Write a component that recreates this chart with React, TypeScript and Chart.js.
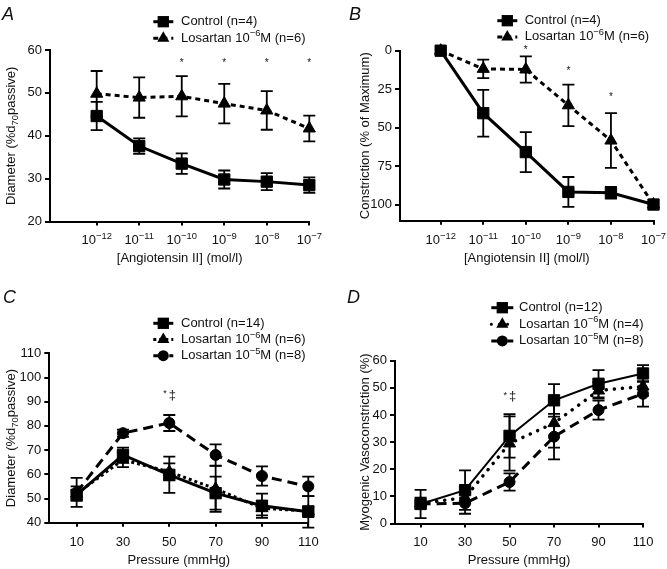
import React, { useEffect, useRef } from 'react';
import { Chart, registerables } from 'chart.js';

Chart.register(...registerables);

const FONT = "'Liberation Sans', Arial, Helvetica, sans-serif";
const INK = '#111';

// ---------------- data ----------------
// "^{...}" marks a superscript, "_{...}" a subscript
const angTickLabels = ['10^{−12}', '10^{−11}', '10^{−10}', '10^{−9}', '10^{−8}', '10^{−7}'];
const angIndex = [0, 1, 2, 3, 4, 5];
const pressures = [10, 30, 50, 70, 90, 110];

const aYTicks = [20, 30, 40, 50, 60];
const bYTicks = [0, 25, 50, 75, 100];
const cYTicks = [40, 50, 60, 70, 80, 90, 100, 110];
const dYTicks = [0, 10, 20, 30, 40, 50, 60];

const aControl = [44.6, 37.6, 33.5, 29.8, 29.3, 28.5];
const aControlErr = [3.3, 1.8, 2.4, 2.1, 2.0, 1.8];
const aLos6 = [49.8, 48.9, 49.2, 47.5, 45.9, 41.7];
const aLos6Err = [5.3, 4.7, 4.7, 4.6, 4.5, 3.0];
const aStarX = [2, 3, 4, 5];
const aStarY = [57.4, 57.4, 57.4, 57.4];

const bControl = [0, 40.6, 65.9, 91.8, 92.4, 100];
const bControlErr = [0, 15.2, 13.0, 9.7, 3.8, 0];
const bLos6 = [0, 11.8, 12.2, 35.5, 58.4, 100];
const bLos6Err = [0, 6.0, 8.5, 13.5, 17.8, 0];
const bStarX = [2, 3, 4];
const bStarY = [-1.5, 12, 29];

const cControl = [51.5, 68.0, 59.8, 52.2, 47.0, 44.5];
const cControlErr = [2.0, 3.0, 7.5, 6.8, 5.0, 6.5];
const cLos6 = [52.0, 66.0, 61.0, 54.0, 46.0, 44.8];
const cLos6Err = [3.0, 3.0, 3.5, 9.5, 3.0, 2.0];
const cLos5 = [52.5, 77.0, 81.2, 68.0, 59.3, 55.0];
const cLos5Err = [6.0, 1.5, 3.3, 4.4, 4.0, 4.0];
const cMarkX = [50];
const cMarkY = [92.8];

const dControl = [7.2, 12.3, 32.3, 45.4, 51.5, 55.3];
const dControlErr = [5.2, 7.3, 8.0, 6.0, 5.0, 3.1];
const dLos6 = [7.5, 9.5, 29.5, 37.0, 49.0, 50.5];
const dLos6Err = [2.0, 2.0, 10.0, 9.0, 3.0, 3.5];
const dLos5 = [7.2, 7.5, 15.3, 32.0, 41.8, 47.8];
const dLos5Err = [1.0, 3.9, 3.2, 8.4, 3.5, 4.7];
const dMarkX = [50];
const dMarkY = [46.9];

const abLegend = ['Control (n=4)', 'Losartan 10^{−6}M (n=6)'];
const cLegend = ['Control (n=14)', 'Losartan 10^{−6}M (n=6)', 'Losartan 10^{−5}M (n=8)'];
const dLegend = ['Control (n=12)', 'Losartan 10^{−6}M (n=4)', 'Losartan 10^{−5}M (n=8)'];

const angTitle = '[Angiotensin II] (mol/l)';
const pressTitle = 'Pressure (mmHg)';
const diamTitle = 'Diameter (%d_{70}passive)';
const constrTitle = 'Constriction (% of Maximum)';
const myoTitle = 'Myogenic Vasoconstriction (%)';

// ---------------- styles ----------------
type Kind = 'control' | 'los6' | 'los5';
function seriesStyle(panel: string, kind: Kind) {
  if (kind === 'control')
    return { dash: [] as number[], lw: panel === 'D' ? 2 : 3, ps: 'rect', r: 8, cap: 'butt' as CanvasLineCap };
  if (kind === 'los6') {
    if (panel === 'A' || panel === 'B') return { dash: [5, 4], lw: 3, ps: 'triangle', r: 7, cap: 'butt' as CanvasLineCap };
    if (panel === 'C') return { dash: [3, 3], lw: 3, ps: 'triangle', r: 7, cap: 'butt' as CanvasLineCap };
    return { dash: [0.1, 8], lw: 3.5, ps: 'triangle', r: 7, cap: 'round' as CanvasLineCap };
  }
  return { dash: [10, 6], lw: 3, ps: 'circle', r: 5.5, cap: 'butt' as CanvasLineCap };
}

type Series = { kind: Kind; label: string; values: number[]; errors: number[] };
type Panel = {
  id: string; left: number; top: number; w: number; h: number;
  xs: number[]; xTicks: number[]; xLabels: string[] | null; xMin: number; xMax: number;
  yMin: number; yMax: number; yTicks: number[]; reverse: boolean;
  area: { top: number; bottom: number; left: number; right: number };
  yTitle: string; yTitleX: number; xTitle: string; xTitleY: number; xLabelY: number;
  series: Series[]; marksX: number[]; marksY: number[]; markText: string;
  legend: { x: number; tx: number; y: number; dy: number; half: number };
  letter: { x: number; y: number };
};

const panels: Panel[] = [
  {
    id: 'A', left: 0, top: 0, w: 334, h: 285,
    xs: angIndex, xTicks: angIndex, xLabels: angTickLabels, xMin: -1.098, xMax: 5,
    yMin: 20, yMax: 60, yTicks: aYTicks, reverse: false,
    area: { top: 50, bottom: 221.5, left: 50, right: 309.3 },
    yTitle: diamTitle, yTitleX: 11.7, xTitle: angTitle, xTitleY: 258, xLabelY: 240.5,
    series: [
      { kind: 'control', label: abLegend[0], values: aControl, errors: aControlErr },
      { kind: 'los6', label: abLegend[1], values: aLos6, errors: aLos6Err },
    ],
    marksX: aStarX, marksY: aStarY, markText: '*',
    legend: { x: 163.3, tx: 181, y: 21.7, dy: 16.6, half: 10 },
    letter: { x: 2, y: 20 },
  },
  {
    id: 'B', left: 334, top: 0, w: 333, h: 285,
    xs: angIndex, xTicks: angIndex, xLabels: angTickLabels, xMin: -0.956, xMax: 5,
    yMin: 0, yMax: 110.5, yTicks: bYTicks, reverse: true,
    area: { top: 50.7, bottom: 220.7, left: 66, right: 319.5 },
    yTitle: constrTitle, yTitleX: 31.7, xTitle: angTitle, xTitleY: 258, xLabelY: 240.5,
    series: [
      { kind: 'control', label: abLegend[0], values: bControl, errors: bControlErr },
      { kind: 'los6', label: abLegend[1], values: bLos6, errors: bLos6Err },
    ],
    marksX: bStarX, marksY: bStarY, markText: '*',
    legend: { x: 173.3, tx: 190.7, y: 20.7, dy: 16.2, half: 10 },
    letter: { x: 15, y: 20 },
  },
  {
    id: 'C', left: 0, top: 285, w: 334, h: 284,
    xs: pressures, xTicks: pressures, xLabels: null, xMin: -1.8, xMax: 110,
    yMin: 40, yMax: 110, yTicks: cYTicks, reverse: false,
    area: { top: 68.3, bottom: 237.7, left: 49.3, right: 308.3 },
    yTitle: diamTitle, yTitleX: 11.7, xTitle: pressTitle, xTitleY: 275.5, xLabelY: 256.7,
    series: [
      { kind: 'control', label: cLegend[0], values: cControl, errors: cControlErr },
      { kind: 'los6', label: cLegend[1], values: cLos6, errors: cLos6Err },
      { kind: 'los5', label: cLegend[2], values: cLos5, errors: cLos5Err },
    ],
    marksX: cMarkX, marksY: cMarkY, markText: '*‡',
    legend: { x: 163.3, tx: 181, y: 38.3, dy: 16.2, half: 10 },
    letter: { x: 3, y: 18 },
  },
  {
    id: 'D', left: 334, top: 285, w: 333, h: 284,
    xs: pressures, xTicks: pressures, xLabels: null, xMin: -1.5, xMax: 110,
    yMin: 0, yMax: 60, yTicks: dYTicks, reverse: false,
    area: { top: 75.7, bottom: 238.5, left: 61, right: 309 },
    yTitle: myoTitle, yTitleX: 31.7, xTitle: pressTitle, xTitleY: 275.5, xLabelY: 256.7,
    series: [
      { kind: 'control', label: dLegend[0], values: dControl, errors: dControlErr },
      { kind: 'los6', label: dLegend[1], values: dLos6, errors: dLos6Err },
      { kind: 'los5', label: dLegend[2], values: dLos5, errors: dLos5Err },
    ],
    marksX: dMarkX, marksY: dMarkY, markText: '*‡',
    legend: { x: 168.3, tx: 185, y: 22.7, dy: 16.6, half: 11 },
    letter: { x: 13, y: 18.3 },
  },
];

// ---------------- rich text (super/subscripts) ----------------
type Run = { t: string; k: 'n' | 'sup' | 'sub' };
function parseRich(s: string): Run[] {
  const runs: Run[] = [];
  const re = /\^\{([^}]*)\}|_\{([^}]*)\}/g;
  let last = 0;
  let m: RegExpExecArray | null;
  while ((m = re.exec(s))) {
    if (m.index > last) runs.push({ t: s.slice(last, m.index), k: 'n' });
    if (m[1] !== undefined) runs.push({ t: m[1], k: 'sup' });
    else runs.push({ t: m[2], k: 'sub' });
    last = re.lastIndex;
  }
  if (last < s.length) runs.push({ t: s.slice(last), k: 'n' });
  return runs;
}
function drawRich(ctx: CanvasRenderingContext2D, s: string, x: number, y: number, align: 'left' | 'center', size: number) {
  const runs = parseRich(s);
  const small = Math.round(size * 0.72 * 10) / 10;
  const fontFor = (k: string) => `${k === 'n' ? size : small}px ${FONT}`;
  const widths = runs.map((r) => {
    ctx.font = fontFor(r.k);
    return ctx.measureText(r.t).width;
  });
  const total = widths.reduce((a, b) => a + b, 0);
  let cx = align === 'center' ? x - total / 2 : x;
  ctx.textAlign = 'left';
  ctx.textBaseline = 'middle';
  runs.forEach((r, i) => {
    ctx.font = fontFor(r.k);
    const dy = r.k === 'sup' ? -size * 0.34 : r.k === 'sub' ? size * 0.3 : 0;
    ctx.fillText(r.t, cx, y + dy);
    cx += widths[i];
  });
}

function drawMarker(ctx: CanvasRenderingContext2D, ps: string, r: number, x: number, y: number) {
  ctx.beginPath();
  if (ps === 'rect') {
    const s = Math.SQRT1_2 * r;
    ctx.rect(x - s, y - s, 2 * s, 2 * s);
  } else if (ps === 'triangle') {
    ctx.moveTo(x, y - r);
    ctx.lineTo(x + Math.sin((2 * Math.PI) / 3) * r, y - Math.cos((2 * Math.PI) / 3) * r);
    ctx.lineTo(x + Math.sin((4 * Math.PI) / 3) * r, y - Math.cos((4 * Math.PI) / 3) * r);
    ctx.closePath();
  } else {
    ctx.arc(x, y, r, 0, Math.PI * 2);
  }
  ctx.fill();
}

function extrasPlugin(p: Panel) {
  return {
    id: 'extras' + p.id,
    beforeDatasetsDraw(chart: any) {
      const ctx: CanvasRenderingContext2D = chart.ctx;
      const ys = chart.scales.y;
      ctx.save();
      ctx.strokeStyle = '#000';
      ctx.lineWidth = 1.8;
      ctx.setLineDash([]);
      p.series.forEach((s, i) => {
        const meta = chart.getDatasetMeta(i);
        s.errors.forEach((e, j) => {
          if (!e) return;
          const x = meta.data[j].x;
          const y1 = ys.getPixelForValue(s.values[j] + e);
          const y2 = ys.getPixelForValue(s.values[j] - e);
          ctx.beginPath();
          ctx.moveTo(x, y1);
          ctx.lineTo(x, y2);
          ctx.moveTo(x - 6, y1);
          ctx.lineTo(x + 6, y1);
          ctx.moveTo(x - 6, y2);
          ctx.lineTo(x + 6, y2);
          ctx.stroke();
        });
      });
      ctx.restore();
    },
    afterDraw(chart: any) {
      const ctx: CanvasRenderingContext2D = chart.ctx;
      const xs = chart.scales.x;
      const ys = chart.scales.y;
      const area = chart.chartArea;
      ctx.save();
      ctx.fillStyle = INK;
      // x tick labels with superscripts
      if (p.xLabels) {
        p.xTicks.forEach((v, i) => {
          drawRich(ctx, p.xLabels![i], xs.getPixelForValue(v), p.xLabelY, 'center', 13);
        });
      }
      // y axis title (rotated)
      ctx.save();
      ctx.translate(p.yTitleX, (area.top + area.bottom) / 2);
      ctx.rotate(-Math.PI / 2);
      drawRich(ctx, p.yTitle, 0, 0, 'center', 13);
      ctx.restore();
      // significance marks
      ctx.textAlign = 'center';
      ctx.textBaseline = 'middle';
      p.marksX.forEach((mx, k) => {
        const x = xs.getPixelForValue(mx);
        const y = ys.getPixelForValue(p.marksY[k]);
        if (p.markText === '*') {
          ctx.font = `10px ${FONT}`;
          ctx.fillText('*', x, y + 2);
        } else {
          ctx.font = `13px ${FONT}`;
          ctx.fillText('‡', x + 3, y);
          ctx.font = `9px ${FONT}`;
          ctx.fillText('*', x - 4.3, y - 1);
        }
      });
      // legend
      const L = p.legend;
      p.series.forEach((s, k) => {
        const st = seriesStyle(p.id, s.kind);
        const y = L.y + k * L.dy;
        ctx.save();
        ctx.strokeStyle = '#000';
        ctx.lineWidth = 3;
        ctx.lineCap = st.cap;
        ctx.setLineDash(st.dash);
        ctx.beginPath();
        ctx.moveTo(L.x - L.half, y);
        ctx.lineTo(L.x + L.half, y);
        ctx.stroke();
        ctx.restore();
        ctx.fillStyle = '#000';
        drawMarker(ctx, st.ps, st.r, L.x, y);
        ctx.fillStyle = INK;
        drawRich(ctx, s.label, L.tx, y, 'left', 13);
      });
      // panel letter
      ctx.textAlign = 'left';
      ctx.textBaseline = 'alphabetic';
      ctx.font = `italic 18px ${FONT}`;
      ctx.fillText(p.id, p.letter.x, p.letter.y);
      ctx.restore();
    },
  };
}

function makeConfig(p: Panel): any {
  const lh = 13 * 1.2;
  const datasets = p.series.map((s) => {
    const st = seriesStyle(p.id, s.kind);
    return {
      label: s.label,
      data: s.values.map((v, i) => ({ x: p.xs[i], y: v })),
      borderColor: '#000',
      backgroundColor: '#000',
      borderWidth: st.lw,
      borderDash: st.dash,
      borderCapStyle: st.cap,
      pointStyle: st.ps,
      pointRadius: st.r,
      pointHoverRadius: st.r,
      pointBackgroundColor: '#000',
      pointBorderColor: '#000',
      pointBorderWidth: 1,
      tension: 0,
      fill: false,
      clip: false,
    };
  });
  const tickFont = { size: 13, family: FONT };
  return {
    type: 'line',
    data: { datasets },
    plugins: [extrasPlugin(p)],
    options: {
      responsive: false,
      animation: false,
      events: [],
      layout: { padding: { left: 0, top: p.area.top, right: p.w - p.area.right, bottom: 0 } },
      plugins: { legend: { display: false }, tooltip: { enabled: false } },
      scales: {
        x: {
          type: 'linear',
          min: p.xMin,
          max: p.xMax,
          afterBuildTicks: (s: any) => {
            s.ticks = p.xTicks.map((v) => ({ value: v }));
          },
          afterFit: (s: any) => {
            s.height = p.h - p.area.bottom;
          },
          ticks: {
            callback: (v: number) => (p.xLabels ? '' : String(v)),
            font: tickFont,
            color: INK,
            padding: 7.5,
            autoSkip: false,
            maxRotation: 0,
          },
          grid: { display: true, drawOnChartArea: false, drawTicks: true, tickLength: 4, color: '#000', lineWidth: 2 },
          border: { display: true, color: '#000', width: 2 },
          title: {
            display: true,
            text: p.xTitle,
            font: tickFont,
            color: INK,
            padding: { top: 0, bottom: p.h - p.xTitleY - lh / 2 },
          },
        },
        y: {
          type: 'linear',
          min: p.yMin,
          max: p.yMax,
          reverse: p.reverse,
          afterBuildTicks: (s: any) => {
            s.ticks = p.yTicks.map((v) => ({ value: v }));
          },
          afterFit: (s: any) => {
            s.width = p.area.left;
          },
          ticks: { font: tickFont, color: INK, padding: 3, autoSkip: false },
          grid: { display: true, drawOnChartArea: false, drawTicks: true, tickLength: 5, color: '#000', lineWidth: 2 },
          border: { display: true, color: '#000', width: 2 },
          title: { display: false },
        },
      },
    },
  };
}

function PanelChart({ p }: { p: Panel }) {
  const ref = useRef<HTMLCanvasElement>(null);
  useEffect(() => {
    if (!ref.current) return;
    const chart = new Chart(ref.current, makeConfig(p));
    return () => chart.destroy();
  }, [p]);
  return (
    <canvas
      ref={ref}
      width={p.w}
      height={p.h}
      style={{ position: 'absolute', left: p.left, top: p.top, width: p.w, height: p.h }}
    />
  );
}

export default function App() {
  return (
    <div style={{ position: 'absolute', left: 0, top: 0, width: 667, height: 569, background: '#fff' }}>
      {panels.map((p) => (
        <PanelChart key={p.id} p={p} />
      ))}
    </div>
  );
}
